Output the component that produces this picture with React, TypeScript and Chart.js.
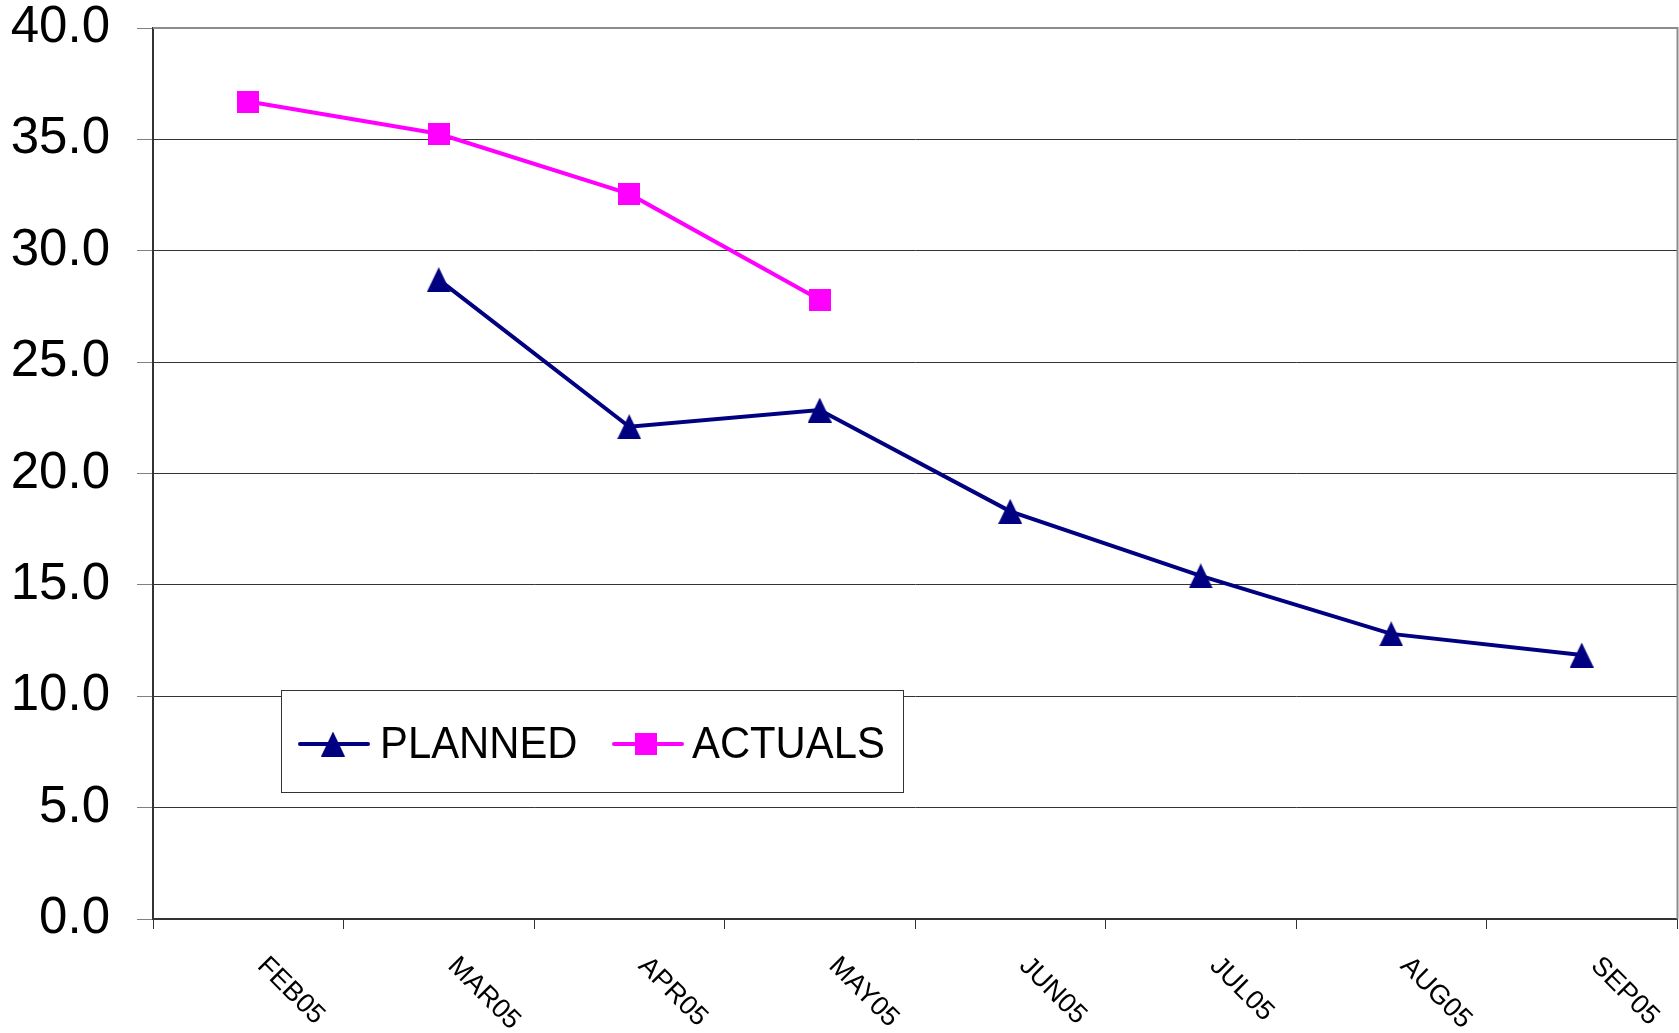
import React, { useEffect, useRef } from "react";
import { Chart, registerables } from "chart.js";

Chart.register(...registerables);

const categories = ["FEB05", "MAR05", "APR05", "MAY05", "JUN05", "JUL05", "AUG05", "SEP05"];
const plannedValues = [null, 28.7, 22.1, 22.85, 18.3, 15.4, 12.8, 11.85];
const actualsValues = [36.7, 35.25, 32.55, 27.8, null, null, null, null];
const seriesNames = ["PLANNED", "ACTUALS"];
const yMin = 0;
const yMax = 40;
const yStep = 5;

const FONT = "'Liberation Sans', Arial, sans-serif";
const NAVY = "#000080";
const MAGENTA = "#FF00FF";
const W = 1679;
const H = 1033;

function makeTriangle(color: string, w: number, h: number) {
  const c = document.createElement("canvas");
  c.width = w;
  c.height = h;
  const g = c.getContext("2d")!;
  g.fillStyle = color;
  g.beginPath();
  g.moveTo(w / 2, 0);
  g.lineTo(w, h);
  g.lineTo(0, h);
  g.closePath();
  g.fill();
  return c;
}

function makeSquare(color: string, s: number) {
  const c = document.createElement("canvas");
  c.width = s;
  c.height = s;
  const g = c.getContext("2d")!;
  g.fillStyle = color;
  g.fillRect(0, 0, s, s);
  return c;
}

export default function App() {
  const ref = useRef<HTMLCanvasElement | null>(null);

  useEffect(() => {
    if (!ref.current) return;
    document.documentElement.style.overflow = "hidden";
    document.body.style.margin = "0";
    document.body.style.overflow = "hidden";
    const tri = makeTriangle(NAVY, 24, 25);
    const sq = makeSquare(MAGENTA, 22);
    const markers = [tri, sq];
    const colors = [NAVY, MAGENTA];

    const framePlugin = {
      id: "frame",
      beforeDatasetsDraw(chart: any) {
        const { ctx, chartArea } = chart;
        ctx.save();
        ctx.strokeStyle = "#8c8c8c";
        ctx.lineWidth = 2;
        ctx.beginPath();
        ctx.moveTo(chartArea.left, chartArea.top);
        ctx.lineTo(chartArea.right + 0.5, chartArea.top);
        ctx.lineTo(chartArea.right + 0.5, chartArea.bottom);
        ctx.stroke();
        ctx.restore();
      },
    };

    const labelsPlugin = {
      id: "xlabels",
      afterDraw(chart: any) {
        const { ctx, chartArea } = chart;
        const xs = chart.scales.x;
        ctx.save();
        ctx.fillStyle = "#000";
        ctx.font = `27px ${FONT}`;
        ctx.textAlign = "left";
        ctx.textBaseline = "alphabetic";
        categories.forEach((lab, i) => {
          const cx = xs.getPixelForValue(i);
          ctx.save();
          ctx.translate(cx + 8, chartArea.bottom + 48);
          ctx.rotate(Math.PI / 4);
          ctx.fillText(lab, 0, 0);
          ctx.restore();
        });
        ctx.restore();
      },
    };

    const legendPlugin = {
      id: "boxLegend",
      afterDraw(chart: any) {
        const { ctx, chartArea } = chart;
        const left = chartArea.left + 128;
        const top = chartArea.top + 662;
        const w = 622;
        const h = 102;
        ctx.save();
        ctx.fillStyle = "#fff";
        ctx.fillRect(left, top, w, h);
        ctx.strokeStyle = "#333";
        ctx.lineWidth = 1;
        ctx.strokeRect(left + 0.5, top + 0.5, w, h);
        const cy = top + 54;
        const items = [
          { x0: 19, x1: 87, m: 52, t: 99 },
          { x0: 333, x1: 401, m: 365, t: 411 },
        ];
        items.forEach((it, i) => {
          ctx.strokeStyle = colors[i];
          ctx.lineWidth = 4;
          ctx.lineCap = "round";
          ctx.beginPath();
          ctx.moveTo(left + it.x0, cy);
          ctx.lineTo(left + it.x1, cy);
          ctx.stroke();
          const mk = markers[i];
          ctx.drawImage(mk, left + it.m - mk.width / 2, cy - mk.height / 2);
          ctx.save();
          ctx.translate(left + it.t, cy + 14);
          ctx.scale(0.95, 1);
          ctx.fillStyle = "#000";
          ctx.font = `44px ${FONT}`;
          ctx.textAlign = "left";
          ctx.textBaseline = "alphabetic";
          ctx.fillText(seriesNames[i], 0, 0);
          ctx.restore();
        });
        ctx.restore();
      },
    };

    const chart = new Chart(ref.current, {
      type: "line",
      data: {
        labels: categories,
        datasets: [
          {
            label: seriesNames[0],
            data: plannedValues,
            borderColor: NAVY,
            backgroundColor: NAVY,
            borderWidth: 4,
            pointStyle: tri as any,
            pointRadius: 12,
            tension: 0,
          },
          {
            label: seriesNames[1],
            data: actualsValues,
            borderColor: MAGENTA,
            backgroundColor: MAGENTA,
            borderWidth: 4,
            pointStyle: sq as any,
            pointRadius: 11,
            tension: 0,
          },
        ],
      },
      options: {
        animation: false,
        responsive: false,
        maintainAspectRatio: false,
        devicePixelRatio: 1,
        layout: { autoPadding: false, padding: { top: 28, right: 2, left: 0, bottom: 0 } },
        plugins: {
          legend: { display: false },
          tooltip: { enabled: false },
          title: { display: false },
        },
        scales: {
          x: {
            type: "category",
            offset: true,
            afterFit: (s: any) => {
              s.height = 114;
              s.paddingLeft = 0;
              s.paddingRight = 0;
            },
            ticks: { display: false },
            grid: {
              offset: true,
              drawOnChartArea: false,
              drawTicks: true,
              tickLength: 10,
              color: "#333",
              lineWidth: 1,
            },
            border: { display: true, color: "#333", width: 2 },
          },
          y: {
            min: yMin,
            max: yMax,
            afterFit: (s: any) => {
              s.width = 153;
              s.paddingTop = 0;
              s.paddingBottom = 0;
            },
            ticks: {
              stepSize: yStep,
              padding: 27,
              color: "#000",
              font: { family: FONT, size: 51, lineHeight: 1 },
              callback: (v: any) => Number(v).toFixed(1),
            },
            grid: {
              color: (c: any) => (c.tick && c.tick.value === yMax ? "rgba(0,0,0,0)" : "#333"),
              tickColor: "#808080",
              tickLength: 16,
              lineWidth: 1,
            },
            border: { display: true, color: "#333", width: 2 },
          },
        },
      },
      plugins: [framePlugin, labelsPlugin, legendPlugin],
    });
    return () => chart.destroy();
  }, []);

  return (
    <div style={{ position: "absolute", left: 0, top: 0, width: W, height: H, background: "#fff", overflow: "hidden" }}>
      <canvas ref={ref} width={W} height={H} style={{ display: "block", width: W, height: H }} />
    </div>
  );
}
